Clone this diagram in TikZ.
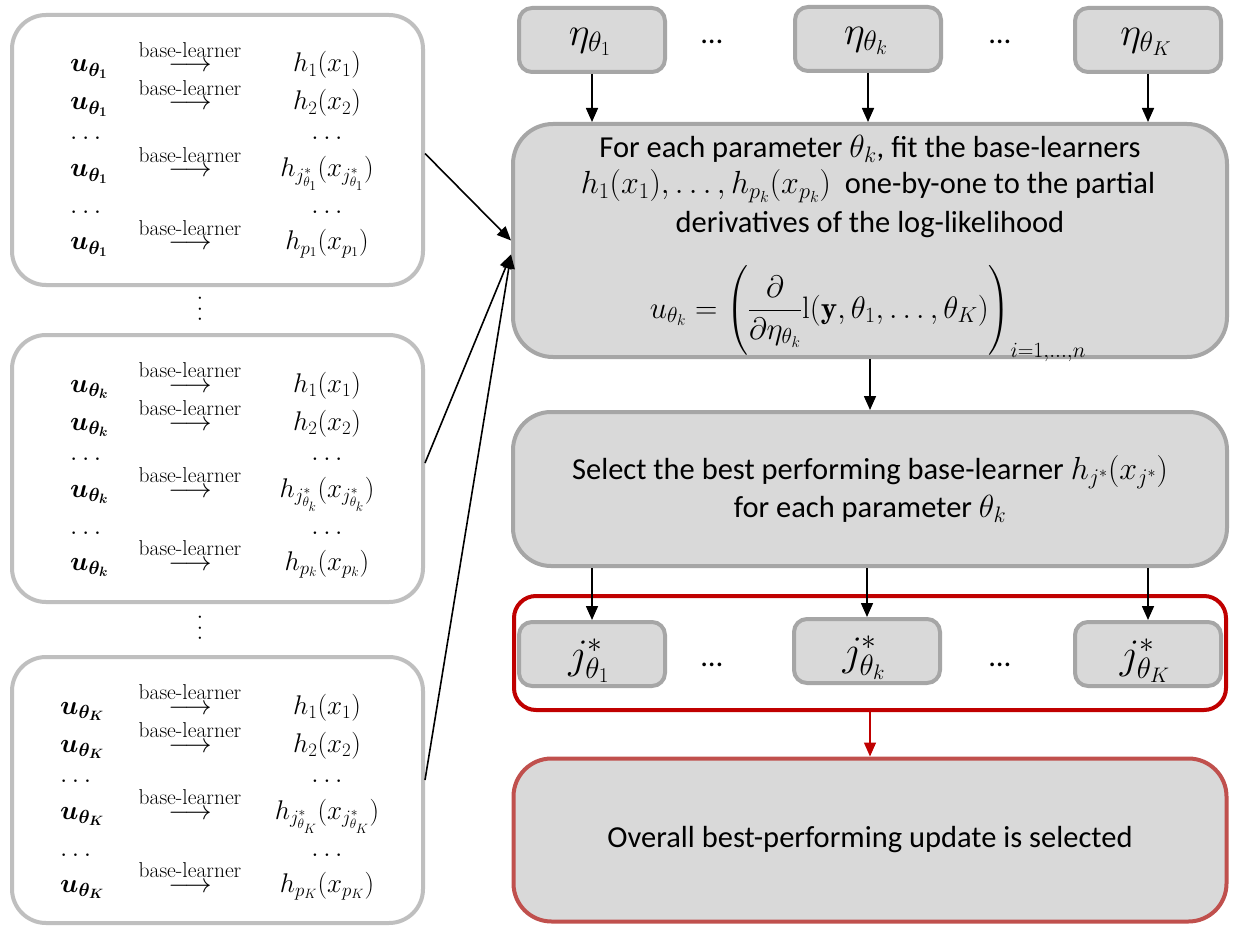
\RequirePackage{fix-cm}
\documentclass[tikz,border=0pt]{standalone}
\usepackage{amsmath}
\usepackage{fontspec}
\newfontfamily\carl{Carlito}
\usetikzlibrary{arrows.meta}
\definecolor{lgray}{HTML}{BFBFBF}
\definecolor{bgray}{HTML}{A6A6A6}
\definecolor{fgray}{HTML}{D9D9D9}
\definecolor{dred}{HTML}{C00000}
\definecolor{lred}{HTML}{C0504D}
\newcommand{\Mth}[1]{{\fontsize{32}{38}\selectfont$#1$}}
\newcommand{\blarr}{\overset{\text{\fontsize{21.5}{22}\selectfont base-learner}}{\longrightarrow}}
% #1 name, #2 outer top, #3 outer height, #4 theta subscript, #5 x of u column
\newcommand{\leftbox}[5]{%
  \node[lbox, minimum height={#3pt-4pt}] (#1) at (217.5,{#2+#3/2}) {};
  \node[lm, anchor=base west] (#1u1) at (#5,{#2+59}) {$\boldsymbol{u_{\theta_#4}}$};
  \node[lm, anchor=base] (#1a1) at (190,{#2+59}) {$\blarr$};
  \node[lm, anchor=base] (#1h1) at (327,{#2+59}) {$h_1(x_1)$};
  \node[lm, anchor=base west] (#1u2) at (#5,{#2+97}) {$\boldsymbol{u_{\theta_#4}}$};
  \node[lm, anchor=base] (#1a2) at (190,{#2+97}) {$\blarr$};
  \node[lm, anchor=base] (#1h2) at (327,{#2+97}) {$h_2(x_2)$};
  \node[lm, anchor=base west] (#1d1) at (#5,{#2+127}) {$\ldots$};
  \node[lm, anchor=base] (#1e1) at (327,{#2+127}) {$\ldots$};
  \node[lm, anchor=base west] (#1u4) at (#5,{#2+164}) {$\boldsymbol{u_{\theta_#4}}$};
  \node[lm, anchor=base] (#1a4) at (190,{#2+164}) {$\blarr$};
  \node[lm, anchor=base] (#1h4) at (327,{#2+164}) {$h_{j^*_{\theta_#4}}(x_{j^*_{\theta_#4}})$};
  \node[lm, anchor=base west] (#1d2) at (#5,{#2+201}) {$\ldots$};
  \node[lm, anchor=base] (#1e2) at (327,{#2+201}) {$\ldots$};
  \node[lm, anchor=base west] (#1u6) at (#5,{#2+237}) {$\boldsymbol{u_{\theta_#4}}$};
  \node[lm, anchor=base] (#1a6) at (190,{#2+237}) {$\blarr$};
  \node[lm, anchor=base] (#1h6) at (327,{#2+237}) {$h_{p_#4}(x_{p_#4})$};
}
\begin{document}
\begin{tikzpicture}[x=1pt,y=-1pt,
  lbox/.style={draw=lgray, line width=4pt, rounded corners=34pt, fill=white, minimum width=411pt, inner sep=0pt},
  gbox/.style={draw=bgray, fill=fgray, line width=4pt, inner sep=0pt},
  sbox/.style={gbox, rounded corners=13pt, minimum width=146pt, minimum height=64pt},
  lm/.style={font=\fontsize{27}{32}\selectfont, inner sep=0pt},
  rt/.style={font=\carl\fontsize{30.5}{38}\selectfont, inner sep=0pt},
  arr/.style={-{Triangle[length=14pt,width=12pt]}, line width=1.6pt},
]
\fill[white] (0,0) rectangle (1234,928);
\useasboundingbox (0,0) rectangle (1234,928);

% left boxes
\leftbox{l1}{13}{274}{1}{70}
\leftbox{l2}{333}{271}{k}{70}
\leftbox{l3}{655}{270}{K}{60}
\node[font=\fontsize{24}{28}\selectfont, inner sep=0pt, rotate=90] (vd1) at (200,309) {$\ldots$};
\node[font=\fontsize{24}{28}\selectfont, inner sep=0pt, rotate=90] (vd2) at (200,628) {$\ldots$};

% top eta boxes
\node[sbox] (e1) at (592,40) {};
\node[sbox] (e2) at (868,39) {};
\node[sbox] (e3) at (1148,40) {};
\node[font=\fontsize{40}{44}\selectfont, inner sep=0pt] (e1l) at (590,42) {$\eta_{\theta_1}$};
\node[font=\fontsize{40}{44}\selectfont, inner sep=0pt] (e2l) at (866,41) {$\eta_{\theta_k}$};
\node[font=\fontsize{40}{44}\selectfont, inner sep=0pt] (e3l) at (1146,42) {$\eta_{\theta_K}$};
\node[rt] (td1) at (712,42) {…};
\node[rt] (td2) at (1000,42) {…};

% main box
\node[gbox, rounded corners=40pt, minimum width=714pt, minimum height=233pt] (main) at (870,240.5) {};
\node[rt, anchor=base] (mt1) at (870,158) {For each parameter \Mth{\theta_k}, fit the base-learners};
\node[rt, anchor=base] (mt2) at (868,194) {\Mth{h_1(x_1),\ldots,h_{p_k}(x_{p_k})}\ \ one-by-one to the partial};
\node[rt, anchor=base] (mt3) at (870,233) {derivatives of the log-likelihood};
\node[font=\fontsize{31}{36}\selectfont, inner sep=0pt, anchor=base] (eq) at (868,318)
  {$u_{\theta_k}=\Bigg(\dfrac{\partial}{\partial\eta_{\theta_k}}\mathrm{l}(\mathbf{y},\theta_1,\ldots,\theta_K)\Bigg)_{i=1,\ldots,n}$};

% select box
\node[gbox, rt, rounded corners=38pt, minimum width=714pt, minimum height=154pt, align=center] (sel) at (870,489)
  {Select the best performing base-learner \Mth{h_{j^*}(x_{j^*})}\\for each parameter \Mth{\theta_k}};

% red group and j boxes
\node[draw=dred, line width=4pt, rounded corners=22pt, fill=white, minimum width=712pt, minimum height=114pt, inner sep=0pt] (grp) at (870,653) {};
\node[sbox] (j1) at (592,654) {};
\node[sbox] (j2) at (867,651) {};
\node[sbox] (j3) at (1148,654) {};
\node[font=\fontsize{42}{46}\selectfont, inner sep=0pt] (j1l) at (589,661) {$j^*_{\theta_1}$};
\node[font=\fontsize{42}{46}\selectfont, inner sep=0pt] (j2l) at (864,658) {$j^*_{\theta_k}$};
\node[font=\fontsize{42}{46}\selectfont, inner sep=0pt] (j3l) at (1145,661) {$j^*_{\theta_K}$};
\node[rt] (jd1) at (712,665) {…};
\node[rt] (jd2) at (1000,665) {…};

% overall box
\node[gbox, rt, draw=lred, rounded corners=38pt, minimum width=713pt, minimum height=163pt] (ov) at (870,840)
  {Overall best-performing update is selected};

% arrows
\draw[arr] (e1.south) -- (e1.south |- main.north);
\draw[arr] (e2.south) -- (e2.south |- main.north);
\draw[arr] (e3.south) -- (e3.south |- main.north);
\draw[arr] (main.south) -- (main.south |- sel.north);
\draw[arr] (sel.south -| j1.north) -- (j1.north);
\draw[arr] (sel.south -| j2.north) -- (j2.north);
\draw[arr] (sel.south -| j3.north) -- (j3.north);
\draw[arr, draw=dred, line width=1.4pt] (grp.south) -- (grp.south |- ov.north);
\draw[arr] ([yshift=-3.5pt]l1.east) -- (main.west);
\draw[arr] ([yshift=5.5pt]l2.east) -- ([yshift=-14pt]main.west);
\draw[arr] ([yshift=10pt]l3.east) -- ([yshift=-14pt]main.west);
\end{tikzpicture}
\end{document}
